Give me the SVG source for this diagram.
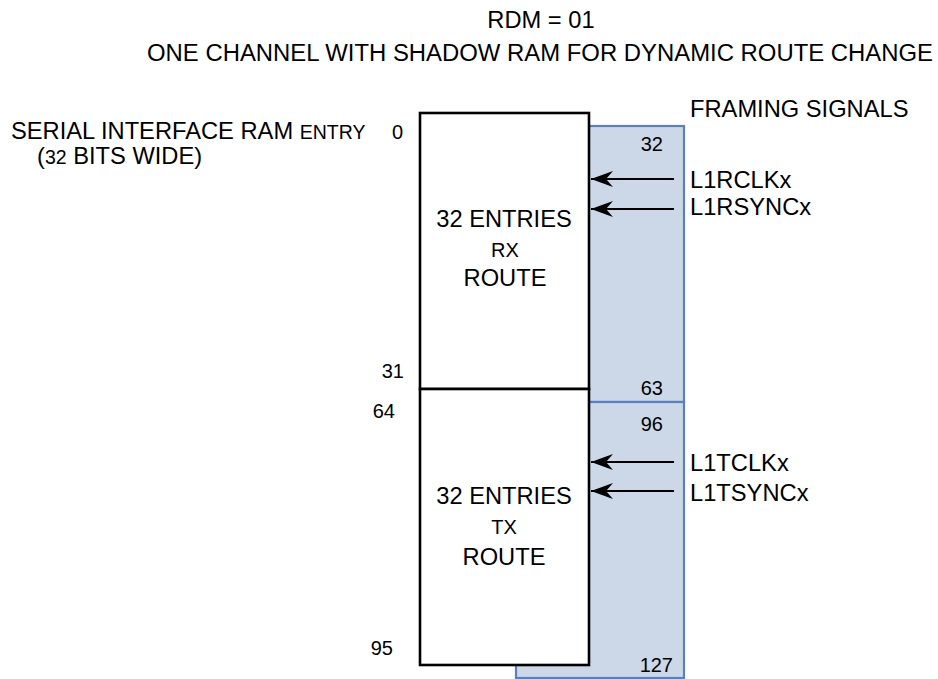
<svg xmlns="http://www.w3.org/2000/svg" width="938" height="679" viewBox="0 0 938 679">
<style>
text{font-family:"Liberation Sans",Arial,sans-serif;fill:#000}
.big{font-size:23.7px}
.sm{font-size:20px}
.blue{fill:#ccd7e8;stroke:#5b80bd;stroke-width:2.2}
.box{fill:#fff;stroke:#000;stroke-width:2.6}
.arr{stroke:#000;stroke-width:1.8;fill:none;marker-end:url(#ah)}
</style>
<defs>
<marker id="ah" markerUnits="userSpaceOnUse" markerWidth="24" markerHeight="18" refX="22" refY="9" orient="auto" viewBox="0 0 24 18">
<path d="M0,1 L22,9 L0,17 L7,9 Z" fill="#000"/>
</marker>
</defs>
<g id="title">
<text class="big" x="541" y="28" text-anchor="middle">RDM = 01</text>
<text class="big" x="147" y="61" textLength="786" lengthAdjust="spacingAndGlyphs">ONE CHANNEL WITH SHADOW RAM FOR DYNAMIC ROUTE CHANGE</text>
</g>
<g id="ram-label">
<text class="big" x="11" y="139">SERIAL INTERFACE RAM <tspan font-size="19.5">ENTRY</tspan></text>
<text class="big" x="37" y="164">(<tspan font-size="19.5">32</tspan> BITS WIDE)</text>
</g>
<g id="framing-label">
<text class="big" x="690" y="117">FRAMING SIGNALS</text>
</g>
<g id="shadow-rx">
<rect class="blue" x="516" y="126" width="168" height="276"/>
<text class="sm" x="663" y="151" text-anchor="end">32</text>
<text class="sm" x="663" y="395" text-anchor="end">63</text>
</g>
<g id="shadow-tx">
<rect class="blue" x="516" y="402" width="168" height="276"/>
<text class="sm" x="663" y="431" text-anchor="end">96</text>
<text class="sm" x="673" y="672" text-anchor="end">127</text>
</g>
<g id="rx-route">
<rect class="box" x="420" y="113" width="169" height="276"/>
<text class="big" x="504" y="227" text-anchor="middle">32 ENTRIES</text>
<text class="sm" x="505" y="257" text-anchor="middle">RX</text>
<text class="big" x="505" y="286" text-anchor="middle">ROUTE</text>
<text class="sm" x="403" y="139" text-anchor="end">0</text>
<text class="sm" x="404" y="378" text-anchor="end">31</text>
</g>
<g id="tx-route">
<rect class="box" x="420" y="389" width="169" height="276"/>
<text class="big" x="504" y="504" text-anchor="middle">32 ENTRIES</text>
<text class="sm" x="504" y="534" text-anchor="middle">TX</text>
<text class="big" x="504" y="565" text-anchor="middle">ROUTE</text>
<text class="sm" x="395" y="418" text-anchor="end">64</text>
<text class="sm" x="393" y="655" text-anchor="end">95</text>
</g>
<g id="connectors">
<line class="arr" x1="674" y1="179" x2="591" y2="179"/>
<line class="arr" x1="674" y1="209" x2="591" y2="209"/>
<line class="arr" x1="674" y1="462" x2="591" y2="462"/>
<line class="arr" x1="674" y1="491" x2="591" y2="491"/>
</g>
<g id="signals">
<text class="big" x="690" y="188">L1RCLKx</text>
<text class="big" x="690" y="215">L1RSYNCx</text>
<text class="big" x="690" y="471">L1TCLKx</text>
<text class="big" x="690" y="501">L1TSYNCx</text>
</g>
</svg>
